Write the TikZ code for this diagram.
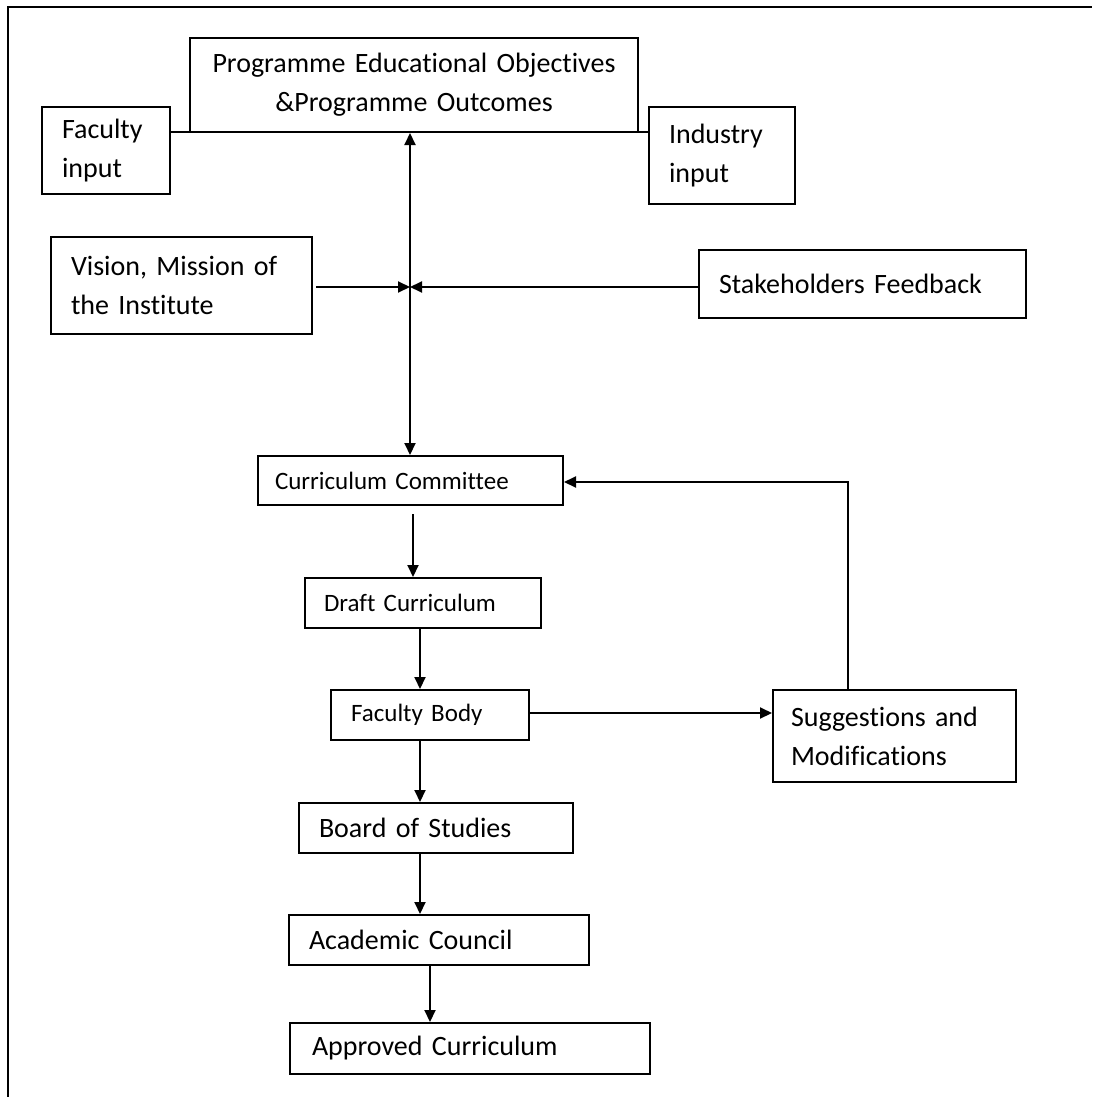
\documentclass[tikz,border=0pt]{standalone}
\usepackage{fontspec}
\setmainfont{Carlito}[Ligatures=NoCommon]
\usetikzlibrary{arrows.meta,positioning}

\begin{document}
\begin{tikzpicture}[x=1pt, y=-1pt, line width=2pt, >={Triangle[length=12pt,width=11pt]},
  block/.style = {draw, rectangle, anchor=north west, align=left, inner xsep=20pt, inner ysep=0pt, font=\fontsize{28}{39}\selectfont},
  sblock/.style = {block, font=\fontsize{25}{30}\selectfont}]

\useasboundingbox (0,0) rectangle (1092,1097);
\draw[line width=1.6pt] (8,1097) |- (1092,7);

% Nodes
\node (peo) [block, align=center, text width=408pt, minimum height=94pt] at (189,37) {Programme Educational Objectives\\ \&Programme Outcomes};
\node (faculty) [block, text width=88pt, minimum height=87pt] at (41,106) {Faculty\\ input};
\node (industry) [block, text width=106pt, minimum height=97pt] at (648,106) {Industry\\ input};
\node (vision) [block, text width=221pt, minimum height=97pt] at (50,236) {Vision, Mission of\\ the Institute};
\node (stake) [block, text width=287pt, minimum height=68pt] at (698,249) {Stakeholders Feedback};
\node (cc) [sblock, inner xsep=17pt, text width=271pt, minimum height=49pt] at (257,455) {Curriculum Committee};
\node (draft) [sblock, inner xsep=19pt, text width=198pt, minimum height=50pt] at (304,577) {Draft Curriculum};
\node (fbody) [sblock, text width=158pt, minimum height=50pt] at (330,689) {Faculty Body};
\node (sugg) [block, inner xsep=18pt, text width=207pt, minimum height=92pt] at (772,689) {Suggestions and\\ Modifications};
\node (bos) [block, text width=234pt, minimum height=50pt] at (298,802) {Board of Studies};
\node (council) [block, text width=260pt, minimum height=50pt] at (288,914) {Academic Council};
\node (approved) [block, inner xsep=22pt, text width=316pt, minimum height=51pt] at (289,1022) {Approved Curriculum};
\coordinate (hub) at (410,287);

% Arrows
\draw ([yshift=1pt]faculty.east |- peo.south west) -- ([yshift=1pt]peo.south west);
\draw ([yshift=1pt]peo.south east) -- ([yshift=1pt]industry.west |- peo.south east);
\draw [<->] (peo.south -| hub) -- (cc.north -| hub);
\draw [->] ([xshift=3pt]vision.east |- hub) -- (hub);
\draw [->] (stake.west |- hub) -- (hub);
\draw [->] ([yshift=-8pt]cc.south -| 413,0) -- (draft.north -| 413,0);
\draw [->] (draft.south -| 420,0) -- (fbody.north -| 420,0);
\draw [->] (fbody.east |- 0,713) -- (sugg.west |- 0,713);
\draw [->] (sugg.north -| 848,0) |- (cc.east |- 0,482);
\draw [->] (fbody.south -| 420,0) -- (bos.north -| 420,0);
\draw [->] (bos.south -| 420,0) -- (council.north -| 420,0);
\draw [->] (council.south -| 430,0) -- (approved.north -| 430,0);
\end{tikzpicture}
\end{document}
